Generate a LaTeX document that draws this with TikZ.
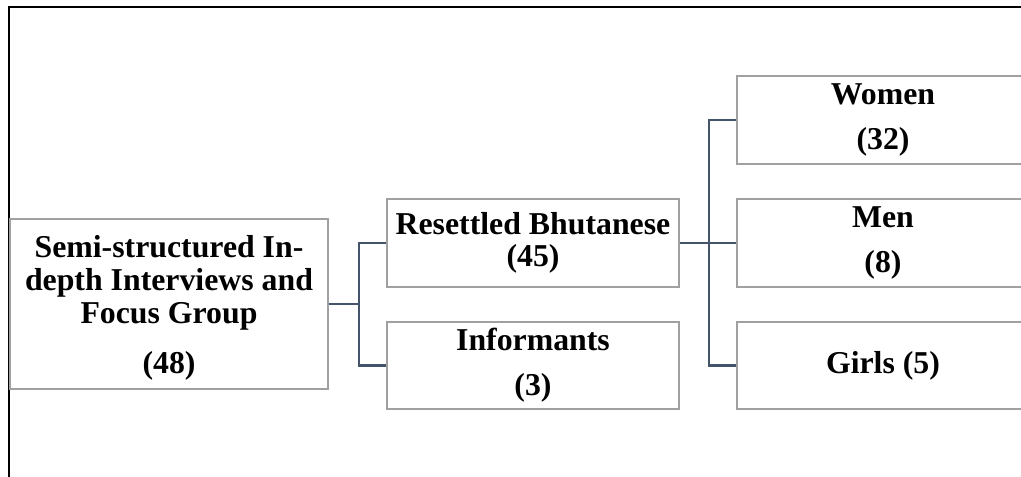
\documentclass[tikz,border=0pt]{standalone}
\usepackage{fontspec}
\setmainfont{Liberation Serif}
\definecolor{boxgray}{HTML}{A0A0A0}
\definecolor{connblue}{HTML}{44546A}
\begin{document}
\begin{tikzpicture}[x=0.75pt,y=-0.75pt,
  box/.style={draw=boxgray,line width=1.4pt,fill=white,rectangle,inner sep=0pt,align=center,
    font=\bfseries\fontsize{23.85}{24.75}\selectfont},
  smallbox/.style={box,minimum width=219pt,minimum height=66pt},
  conn/.style={draw=connblue,line width=1.9pt}]
\useasboundingbox (0,0) rectangle (1021,476);
\clip (0,0) rectangle (1021,476);
% outer frame
\draw[line width=1.6pt,black] (1040,7) -- (9,7) -- (9,490);
% nodes
\node[box,minimum width=238.5pt,minimum height=127.5pt,text depth=0pt] (A) at (169,304)
  {Semi-structured In-\\depth Interviews and\\Focus Group\\[12.75pt](48)};
\node[smallbox] (B) at (533,243) {Resettled Bhutanese\\[-0.5pt](45)};
\node[smallbox,minimum height=65.25pt] (C) at (533,365.5) {Informants\\[9pt](3)};
\node[smallbox] (W) at (883,120) {Women\\[9pt](32)};
\node[smallbox] (M) at (883,243) {Men\\[9pt](8)};
\node[smallbox,minimum height=65.25pt] (G) at (883,365.5) {Girls (5)};
% connectors
\coordinate (j1) at ([xshift=22.5pt]A.east);
\coordinate (j2) at ([xshift=21.75pt]B.east);
\draw[conn] (A.east) -- (j1) |- (B.west);
\draw[conn] (j1) |- (C.west);
\draw[conn] (B.east) -- (j2) |- (W.west);
\draw[conn] (j2) -- (M.west);
\draw[conn] (j2) |- (G.west);
\end{tikzpicture}
\end{document}
